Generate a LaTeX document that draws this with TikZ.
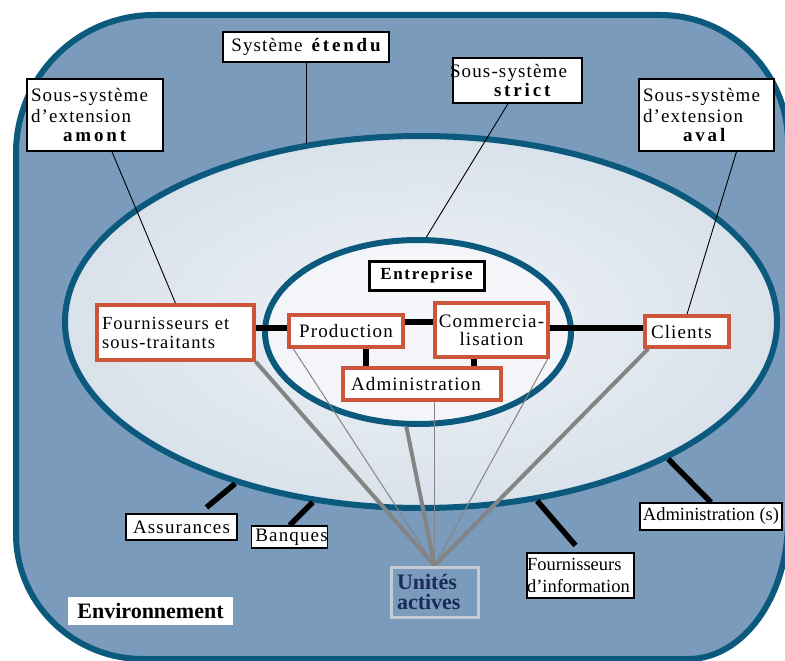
\documentclass[tikz,border=0pt]{standalone}
\usepackage{fontspec}
\setmainfont{Liberation Serif}
\newfontfamily\trackfont{Liberation Serif}[LetterSpace=6]
\newfontfamily\midtrackfont{Liberation Serif}[LetterSpace=10]
\newfontfamily\widefont{Liberation Serif}[LetterSpace=15]
\usetikzlibrary{shapes.geometric,calc}
\definecolor{envfill}{HTML}{7A9BBB}
\definecolor{rim}{HTML}{0B5A7D}
\definecolor{extin}{HTML}{F1F4F8}
\definecolor{extout}{HTML}{D9E1EA}
\definecolor{corefill}{HTML}{F3F5F8}
\definecolor{boxred}{HTML}{CD553C}
\definecolor{raygray}{HTML}{848484}
\definecolor{navy}{HTML}{1C2B55}
\definecolor{unitrim}{HTML}{C5CBD2}
\pgfdeclarelayer{back}
\pgfdeclarelayer{wires}
\pgfsetlayers{back,wires,main}

\begin{document}
\begin{tikzpicture}[x=1pt,y=-1pt,
  rimline/.style={draw=rim, line width=6pt},
  redbox/.style={draw=boxred, line width=3.5pt, fill=white, inner sep=0pt,
     font=\trackfont\fontsize{19}{18}\selectfont},
  tagbox/.style={draw=black, line width=1.5pt, fill=white, inner sep=0pt,
     font=\trackfont\fontsize{19}{21}\selectfont},
  envbox/.style={draw=black, line width=1.2pt, fill=white, inner sep=0pt},
  linkbar/.style={draw=black, line width=5.5pt},
  pointerline/.style={draw=black, line width=0.9pt},
  grayray/.style={draw=raygray, line width=4pt},
  grayfine/.style={draw=raygray, line width=1pt},
]
\useasboundingbox (0,0) rectangle (785,661);

% environment, extended system and enterprise
\begin{pgfonlayer}{back}
  \begin{scope}
    \clip (0,0) rectangle (785,661);
    \filldraw[rimline, fill=envfill]
      (154,15) -- (660,15)
      arc[start angle=270, end angle=360, radius=128]
      -- (788,520)
      arc[start angle=0, end angle=90, x radius=100, y radius=139]
      -- (143,659)
      arc[start angle=90, end angle=180, x radius=127, y radius=125]
      -- (16,153)
      arc[start angle=180, end angle=270, radius=138]
      -- cycle;
  \end{scope}
  \node[ellipse, rimline, inner color=extin, outer color=extout,
        minimum width=712pt, minimum height=372pt, inner sep=0pt] (ext) at (421,322) {};
  \node[ellipse, rimline, fill=corefill,
        minimum width=306pt, minimum height=184pt, inner sep=0pt] (core) at (418,332) {};
\end{pgfonlayer}

% labels of the subsystems
\node[tagbox, minimum width=166pt, minimum height=30pt] (sysetendu) at (306,47)
  {Système\hspace{9pt}{\widefont\bfseries étendu}};
\node[tagbox, minimum width=136pt, minimum height=72pt, text width=128pt,
      inner xsep=4pt, align=left] (amont) at (95,115)
  {Sous-système\\d’extension\\[-2pt]\hspace*{32pt}{\widefont\bfseries amont}};
\node[tagbox, minimum width=129pt, minimum height=45pt, text width=129pt, align=left,
      font=\trackfont\fontsize{19}{19.5}\selectfont] (strict) at (517.5,80.5)
  {\hspace*{-3pt}Sous-système\\\hspace*{41pt}{\widefont\bfseries strict}};
\node[tagbox, minimum width=135pt, minimum height=72pt, text width=127pt,
      inner xsep=4pt, align=left] (aval) at (706.5,115)
  {Sous-système\\d’extension\\[-2pt]\hspace*{40pt}{\widefont\bfseries aval}};

% enterprise and its partners
\node[draw=black, line width=3pt, fill=white, minimum width=115pt, minimum height=29pt,
      inner sep=0pt, font=\midtrackfont\bfseries\fontsize{17}{18}\selectfont]
  (entreprise) at (426.5,275.5) {Entreprise};
\node[redbox, minimum width=157pt, minimum height=55pt, text width=147pt,
      inner xsep=5pt, align=left, font=\trackfont\fontsize{18.5}{19}\selectfont]
  (fourn) at (175.5,332.5) {Fournisseurs et\\sous-traitants};
\node[redbox, minimum width=114pt, minimum height=32pt] (prod) at (346,331) {Production};
\node[redbox, minimum width=113pt, minimum height=54pt, align=center]
  (comm) at (491.5,330) {Commercia-\\lisation};
\node[redbox, minimum width=84pt, minimum height=31pt, text width=72pt,
      inner xsep=6pt, align=left] (clients) at (687,331.5) {Clients};
\node[redbox, minimum width=158pt, minimum height=32pt, text width=142pt,
      inner xsep=8pt, align=left] (admin) at (422,384) {Administration};

% active units
\node[draw=unitrim, line width=3pt, fill=envfill, minimum width=87pt, minimum height=50pt,
      text width=75pt, inner xsep=6pt, inner ysep=0pt, align=left, text=navy,
      font=\bfseries\fontsize{22}{20}\selectfont] (unites) at (434.5,592) {Unités\\actives};

% environment actors
\node[envbox, minimum width=111pt, minimum height=26pt,
      font=\trackfont\fontsize{19}{19}\selectfont] (assur) at (181.5,527) {Assurances};
\node[envbox, minimum width=75pt, minimum height=22pt,
      font=\trackfont\fontsize{19}{19}\selectfont] (banques) at (289.5,537) {\hspace*{4pt}Banques};
\node[envbox, minimum width=107pt, minimum height=45pt, text width=107pt, align=left,
      font=\fontsize{18.5}{22}\selectfont] (fourinfo) at (580.5,575.5) {Fournisseurs\\d’information};
\node[envbox, minimum width=142pt, minimum height=27pt,
      font=\fontsize{18.5}{20}\selectfont] (adminS) at (711,516.5) {Administration (s)};
\node[fill=white, minimum width=165pt, minimum height=28pt, inner sep=0pt,
      font=\bfseries\fontsize{22}{24}\selectfont] (envlabel) at (150.5,611) {Environnement};

\begin{pgfonlayer}{wires}
  % pointers from the subsystem labels
  \draw[pointerline] (sysetendu.south) -- (sysetendu.south |- ext.124);
  \draw[pointerline] ([xshift=17pt]amont.south) -- (fourn.north);
  \draw[pointerline] ([xshift=-9.5pt]strict.south) -- (core.85);
  \draw[pointerline] ([xshift=30pt]aval.south) -- (clients.north);

  % links between the functions
  \draw[linkbar] ([yshift=3pt]prod.west) -- ([yshift=3pt]prod.west -| fourn.east);
  \draw[linkbar] ([yshift=9pt]prod.east) -- ([yshift=9pt]prod.east -| comm.west);
  \draw[linkbar] ([yshift=3.5pt]clients.west) -- ([yshift=3.5pt]clients.west -| comm.east);
  \draw[linkbar] ([xshift=20pt]prod.south) -- ([xshift=20pt]prod.south |- admin.north);
  \draw[linkbar] ([xshift=-17.5pt]comm.south) -- ([xshift=-17.5pt]comm.south |- admin.north);

  % environment actors attached to the extended system
  \draw[linkbar] (ext.221) -- ([shift={(25,-6)}]assur.north);
  \draw[linkbar] (ext.239) -- (banques.north);
  \draw[linkbar] (ext.303) -- ([shift={(-5,-7)}]fourinfo.north);
  \draw[linkbar] (ext.331) -- (adminS.north);

  % active units
  \draw[grayray] (fourn.south east) -- (unites.north);
  \draw[grayfine] ([xshift=6pt]prod.south west) -- (unites.north);
  \draw[grayray] (core.263) -- (unites.north);
  \draw[grayfine] (admin.south -| unites.north) -- (unites.north);
  \draw[grayfine] ([xshift=-2pt]comm.south east) -- (unites.north);
  \draw[grayray] ([xshift=5pt]clients.south west) -- (unites.north);
\end{pgfonlayer}
\end{tikzpicture}
\end{document}
